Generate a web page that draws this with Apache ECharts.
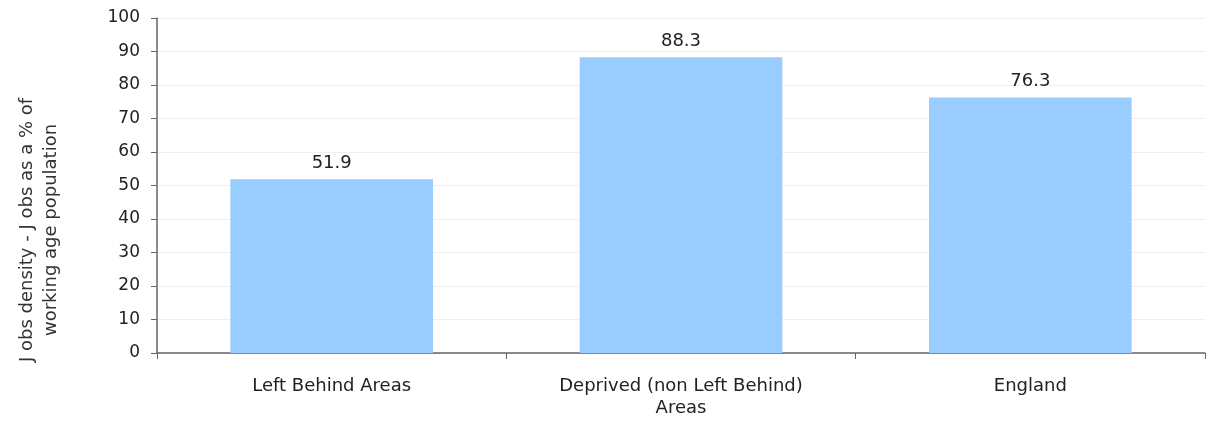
<!DOCTYPE html>
<html><head><meta charset="utf-8">
<script src="https://cdn.jsdelivr.net/npm/echarts@6/dist/echarts.min.js"></script>
<style>html,body{margin:0;padding:0;background:#fff}#c{width:1216px;height:421px}</style>
</head><body><div id="c"></div>
<script>
const categories = ['Left Behind Areas', 'Deprived (non Left Behind)\nAreas', 'England'];
const values = [51.9, 88.3, 76.3];
const yTitle = 'J obs density - J obs as a % of\nworking age population';

const chart = echarts.init(document.getElementById('c'), null, {renderer: 'canvas'});
chart.setOption({
  animation: false,
  grid: {left: 157, right: 11, top: 18, bottom: 68},
  graphic: [{
    type: 'text', x: 39, y: 230, rotation: Math.PI / 2,
    style: {text: yTitle, fill: '#333', font: '18px "DejaVu Sans"', align: 'center', verticalAlign: 'middle', lineHeight: 24}
  }],
  xAxis: {
    type: 'category', data: categories,
    axisLine: {lineStyle: {color: '#666', width: 1.5}},
    axisTick: {show: true, length: 6, lineStyle: {color: '#666'}},
    axisLabel: {color: '#222', fontFamily: 'DejaVu Sans', fontSize: 18, margin: 22, lineHeight: 22},
    splitLine: {show: false}
  },
  yAxis: {
    type: 'value', min: 0, max: 100, interval: 10,
    axisLine: {show: true, lineStyle: {color: '#666', width: 1.5}},
    axisTick: {show: true, length: 6, lineStyle: {color: '#666'}},
    axisLabel: {color: '#222', fontFamily: 'DejaVu Sans', fontSize: 17, margin: 17},
    splitLine: {show: true, lineStyle: {color: '#efefef', width: 1}}
  },
  series: [{
    type: 'bar', data: values, barWidth: '58%',
    itemStyle: {color: '#99ccff'},
    label: {show: true, position: 'top', color: '#222', fontFamily: 'DejaVu Sans', fontSize: 18, distance: 7}
  }]
});
</script></body></html>
